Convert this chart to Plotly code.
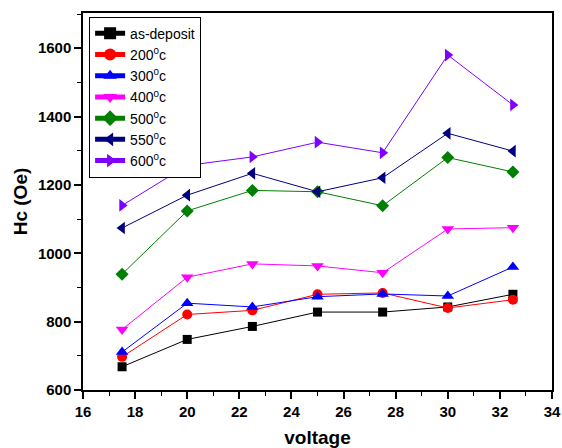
import plotly.graph_objects as go

voltage = [17.5, 20, 22.5, 25, 27.5, 30, 32.5]
as_deposit = [668, 748, 786, 828, 828, 843, 880]
t200 = [697, 821, 833, 880, 884, 840, 864]
t300 = [711, 854, 843, 873, 881, 875, 960]
t400 = [777, 930, 969, 963, 943, 1071, 1075]
t500 = [939, 1124, 1184, 1180, 1139, 1280, 1238]
t550 = [1074, 1170, 1234, 1180, 1221, 1351, 1299]
t600 = [1140, 1257, 1282, 1325, 1294, 1580, 1434]

x_ticks = [16, 18, 20, 22, 24, 26, 28, 30, 32, 34]
y_ticks = [600, 800, 1000, 1200, 1400, 1600]

names = ["as-deposit", "200<sup>0</sup>c", "300<sup>0</sup>c", "400<sup>0</sup>c",
         "500<sup>0</sup>c", "550<sup>0</sup>c", "600<sup>0</sup>c"]
series = [as_deposit, t200, t300, t400, t500, t550, t600]
colors = ["#000000", "#FF0000", "#0000FF", "#FF00FF", "#008000", "#000080", "#8000FF"]
symbols = ["square", "circle", "triangle-up", "triangle-down", "diamond",
           "triangle-left", "triangle-right"]
sizes = [9, 10, 11, 11, 10, 11, 11]

fig = go.Figure()
for n, s, c, sym, sz in zip(names, series, colors, symbols, sizes):
    fig.add_trace(go.Scatter(x=voltage, y=s, name=n, mode="lines+markers",
                             line=dict(color=c, width=1),
                             marker=dict(symbol=sym, size=sz, color=c)))

FONT = "Liberation Sans, Arial"
axis_common = dict(showgrid=False, zeroline=False, showline=True, linecolor="black",
                   linewidth=1.5, mirror=True, ticks="outside", tickwidth=1.5,
                   tickcolor="black", ticklen=7, automargin=False,
                   tickfont=dict(family=FONT, size=15, color="black", weight="bold"))

fig.update_xaxes(range=[16, 34], tickmode="array", tickvals=x_ticks,
                 ticktext=["<b>%d</b>" % v for v in x_ticks],
                 minor=dict(dtick=1, ticks="outside", ticklen=4, tickcolor="black", tickwidth=1),
                 title=dict(text="<b>voltage</b>", standoff=13,
                            font=dict(family=FONT, size=19, color="black")),
                 **axis_common)
fig.update_yaxes(range=[600, 1703], tickmode="array", tickvals=y_ticks,
                 ticktext=["<b>%d</b>" % v for v in y_ticks],
                 minor=dict(dtick=100, ticks="outside", ticklen=4, tickcolor="black", tickwidth=1),
                 title=dict(text="<b>Hc (Oe)</b>", standoff=5,
                            font=dict(family=FONT, size=19, color="black")),
                 **axis_common)

fig.update_layout(
    width=562, height=448,
    margin=dict(l=83, r=10, t=13, b=58),
    paper_bgcolor="white", plot_bgcolor="white",
    showlegend=True,
    legend=dict(x=0.013, y=0.99, xanchor="left", yanchor="top",
                bordercolor="black", borderwidth=1, bgcolor="white",
                font=dict(family=FONT, size=14, color="black"),
                tracegroupgap=0, itemsizing="constant"),
)

fig.write_html("out.html")
